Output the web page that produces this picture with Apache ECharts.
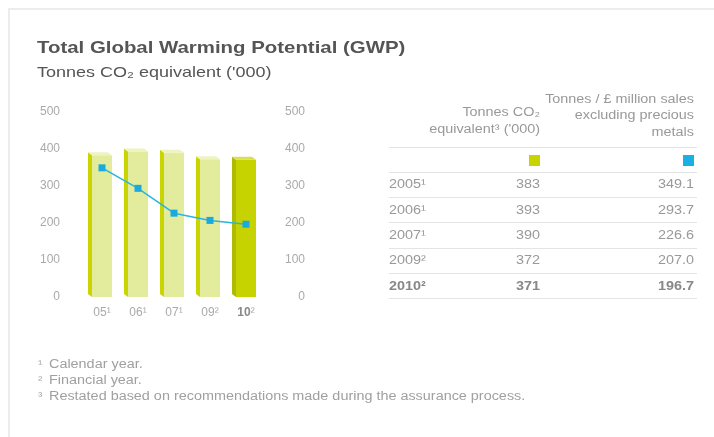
<!DOCTYPE html>
<html>
<head>
<meta charset="utf-8">
<script src="https://cdn.jsdelivr.net/npm/echarts@6/dist/echarts.min.js"></script>
<style>
html, body { margin: 0; padding: 0; background: #fff; }
#main { width: 714px; height: 437px; }
</style>
</head>
<body>
<div id="main"></div>
<script>
// 数据
var categories = ['05', '06', '07', '09', '10'];
var catNotes = ['¹', '¹', '¹', '²', '²'];
var years = ['2005', '2006', '2007', '2009', '2010'];
var tonnesCO2 = [383, 393, 390, 372, 371];
var perSales = [349.1, 293.7, 226.6, 207.0, 196.7];
var yTicks = [0, 100, 200, 300, 400, 500];
var footnotes = [
	['¹', 'Calendar year.'],
	['²', 'Financial year.'],
	['³', 'Restated based on recommendations made during the assurance process.']
];

var FONT = '"Liberation Sans", Arial, sans-serif';
var SX = 1.2; // 原图横向拉伸
var last = categories.length - 1;

function txt(x, y, s, size, color, align, weight){
	return {
		type: 'text', x: x, y: y, scaleX: SX, z: 10,
		style: {
			text: s, fontFamily: FONT, fontSize: size, fontWeight: weight || 'normal',
			fill: color, align: align || 'left', verticalAlign: 'middle', lineHeight: 16.5
		}
	};
}

var graphics = [];
// 边框
graphics.push({type: 'rect', shape: {x: 8, y: 8, width: 706, height: 2}, style: {fill: '#ececec'}});
graphics.push({type: 'rect', shape: {x: 8, y: 8, width: 2, height: 429}, style: {fill: '#ececec'}});
// 标题
graphics.push(txt(37, 48, 'Total Global Warming Potential (GWP)', 17, '#555', 'left', 'bold'));
graphics.push(txt(37, 73, 'Tonnes CO₂ equivalent (\'000)', 15, '#555'));

// 表格
var colA = 540, colB = 694, colY = 389;
graphics.push(txt(colA, 121, 'Tonnes CO₂\nequivalent³ (\'000)', 12, '#999', 'right'));
graphics.push(txt(colB, 116, 'Tonnes / £ million sales\nexcluding precious\nmetals', 12, '#999', 'right'));
var lineYs = [147, 172, 197, 222, 248, 273, 298];
for (var k = 0; k < lineYs.length; k++) {
	graphics.push({type: 'rect', shape: {x: 389, y: lineYs[k], width: 308, height: 1}, style: {fill: '#e4e4e4'}});
}
graphics.push({type: 'rect', shape: {x: colA - 11, y: 155, width: 11, height: 11}, style: {fill: '#c8d400'}});
graphics.push({type: 'rect', shape: {x: colB - 11, y: 155, width: 11, height: 11}, style: {fill: '#1ab0e4'}});
for (var i = 0; i < years.length; i++) {
	var ry = 185 + i * 25.3;
	var bold = i === last ? 'bold' : 'normal';
	var col = i === last ? '#888' : '#999';
	graphics.push(txt(colY, ry, years[i] + catNotes[i], 12, col, 'left', bold));
	graphics.push(txt(colA, ry, String(tonnesCO2[i]), 12, col, 'right', bold));
	graphics.push(txt(colB, ry, perSales[i].toFixed(1), 12, col, 'right', bold));
}

// 脚注
for (var f = 0; f < footnotes.length; f++) {
	var fy = 365 + f * 16;
	graphics.push(txt(38, fy, footnotes[f][0], 11, '#aaa'));
	graphics.push(txt(49, fy, footnotes[f][1], 12, '#a0a0a0'));
}

var barData = tonnesCO2.map(function (v, idx){ return [idx, v]; });

var axisLabelStyle = {
	color: '#aaa', fontFamily: FONT, fontSize: 12, padding: [0, 0, 8, 0],
	formatter: function (v){ return yTicks.indexOf(v) >= 0 ? String(v) : ''; }
};

var myChart = echarts.init(document.getElementById('main'));
var option = {
	animation: false,
	grid: {left: 84, width: 180, top: 112, height: 185},
	xAxis: {
		type: 'category',
		data: categories,
		axisLine: {show: false},
		axisTick: {show: false},
		axisLabel: {
			interval: 0,
			margin: 10,
			formatter: function (v, idx){
				return idx === last ? '{b|' + v + '}{n|' + catNotes[idx] + '}' : '{n|' + v + catNotes[idx] + '}';
			},
			rich: {
				n: {color: '#aaa', fontFamily: FONT, fontSize: 12},
				b: {color: '#888', fontFamily: FONT, fontSize: 12, fontWeight: 'bold'}
			}
		}
	},
	yAxis: [{
		type: 'value', min: 0, max: 500, interval: 100,
		axisLine: {show: false}, axisTick: {show: false}, splitLine: {show: false},
		axisLabel: Object.assign({margin: 24}, axisLabelStyle)
	}, {
		type: 'value', min: 0, max: 500, interval: 100, position: 'right',
		axisLine: {show: false}, axisTick: {show: false}, splitLine: {show: false},
		axisLabel: Object.assign({margin: 41, align: 'right'}, axisLabelStyle)
	}],
	series: [{
		name: 'Tonnes CO2',
		type: 'custom',
		data: barData,
		encode: {x: 0, y: 1},
		renderItem: function (params, api){
			var idx = api.value(0);
			var top = api.coord([idx, api.value(1)]);
			var base = api.coord([idx, 0]);
			var cx = top[0], hw = 10, dx = 4, dy = 3;
			var hl = idx === last;
			var front = hl ? '#c6d300' : '#e3eb9c';
			var side = hl ? '#aebb00' : '#c9d400';
			var topc = hl ? '#d6df55' : '#eef3c2';
			return {
				type: 'group',
				children: [{
					type: 'polygon',
					shape: {points: [[cx - hw, top[1]], [cx - hw - dx, top[1] - dy], [cx - hw - dx, base[1] - dy], [cx - hw, base[1]]]},
					style: {fill: side}
				}, {
					type: 'rect',
					shape: {x: cx - hw, y: top[1], width: hw * 2, height: base[1] - top[1]},
					style: {fill: front}
				}, {
					type: 'polygon',
					shape: {points: [[cx - hw, top[1]], [cx - hw - dx, top[1] - dy], [cx + hw - dx, top[1] - dy], [cx + hw, top[1]]]},
					style: {fill: topc}
				}]
			};
		}
	}, {
		name: 'Tonnes / £ million sales',
		type: 'line',
		yAxisIndex: 1,
		z: 5,
		data: perSales,
		symbol: 'rect',
		symbolSize: 7,
		lineStyle: {color: '#2ab4e2', width: 1.5},
		itemStyle: {color: '#1aaade'}
	}],
	graphic: graphics
};
myChart.setOption(option);
</script>
</body>
</html>
